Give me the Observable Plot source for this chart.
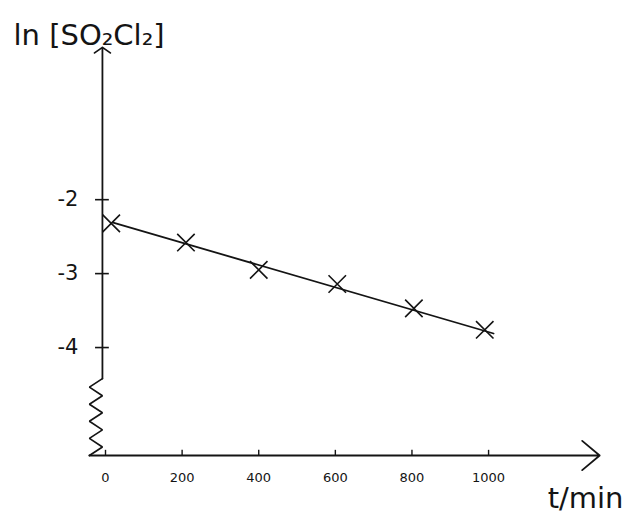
<!DOCTYPE html>
<html><head><meta charset="utf-8">
<script src="https://cdn.jsdelivr.net/npm/d3@7"></script>
<script src="https://cdn.jsdelivr.net/npm/@observablehq/plot@0.6"></script>
<style>html,body{margin:0;padding:0;background:#fff}</style>
</head><body><div id="chart"></div>
<script>
// ---- data ----
const times = [15, 210, 400, 605, 805, 990];            // t / min (as plotted)
const lnConc = [-2.32, -2.58, -2.95, -3.14, -3.47, -3.76]; // ln[SO2Cl2]
const fitTimes = [20, 1013];                            // best-fit line ends
const fitValues = [-2.31, -3.81];
const xTicks = [0, 200, 400, 600, 800, 1000];
const xTickLabels = ["0", "200", "400", "600", "800", "1000"];
const yTicks = [-2, -3, -4];
const yTickLabels = ["-2", "-3", "-4"];
const yLabel = "ln [SO₂Cl₂]";
const xLabel = "t/min";

// ---- derived tables ----
const points = times.map((t, i) => ({t, v: lnConc[i]}));
const fit = fitTimes.map((t, i) => ({t, v: fitValues[i]}));

const ink = "#141414";
const yMin = -5.46, yMax = -0.05;
const axisT = -8;          // position of the vertical axis
const breakTop = -4.42;    // start of the axis break (zigzag)
const zigN = 9;
const zig = d3.range(zigN + 1).map(i => ({
  t: i % 2 ? axisT - 34 : axisT,
  v: breakTop + (yMin - breakTop) * i / zigN
}));

const chart = Plot.plot({
  width: 625, height: 520,
  marginLeft: 105, marginRight: 22, marginTop: 55, marginBottom: 65,
  x: {domain: [0, 1300], axis: null},
  y: {domain: [yMin, yMax], axis: null},
  style: {fontFamily: "DejaVu Sans, sans-serif", color: ink, background: "#fff"},
  marks: [
    // vertical axis with break and arrow
    Plot.line(zig, {x: "t", y: "v", stroke: ink, strokeWidth: 1.7, strokeLinejoin: "miter"}),
    Plot.arrow([0], {x1: axisT, y1: breakTop, x2: axisT, y2: 0.06, stroke: ink, strokeWidth: 1.8, headLength: 8, headAngle: 110}),
    // horizontal axis with arrow
    Plot.arrow([0], {x1: axisT - 34, y1: yMin, x2: 1290, y2: yMin, stroke: ink, strokeWidth: 1.8, headLength: 19, headAngle: 80}),
    // ticks
    Plot.ruleY(yTicks, {y: d => d, x1: axisT - 18, x2: axisT + 18, stroke: ink, strokeWidth: 1.6}),
    Plot.ruleX(xTicks, {x: d => d, y1: yMin, y2: yMin + 0.07, stroke: ink, strokeWidth: 1.4}),
    // tick labels
    Plot.text(xTicks, {x: d => d, y: yMin, text: (d, i) => xTickLabels[i], dy: 22, fontSize: 13, fill: ink}),
    Plot.text(yTicks, {x: axisT, y: d => d, text: (d, i) => yTickLabels[i], dx: -24, textAnchor: "end", fontSize: 21, fill: ink}),
    // best-fit line and data points
    Plot.line(fit, {x: "t", y: "v", stroke: ink, strokeWidth: 1.8}),
    Plot.dot(points, {x: "t", y: "v", symbol: "times", r: 8, stroke: ink, strokeWidth: 1.6}),
    // axis titles
    Plot.text([yLabel], {frameAnchor: "top-left", dx: -92, dy: -31, textAnchor: "start", fontSize: 29, fill: ink}),
    Plot.text([xLabel], {frameAnchor: "bottom-right", dx: 20, dy: 52, textAnchor: "end", fontSize: 29, fill: ink})
  ]
});
document.getElementById("chart").appendChild(chart);
</script>
</body></html>
